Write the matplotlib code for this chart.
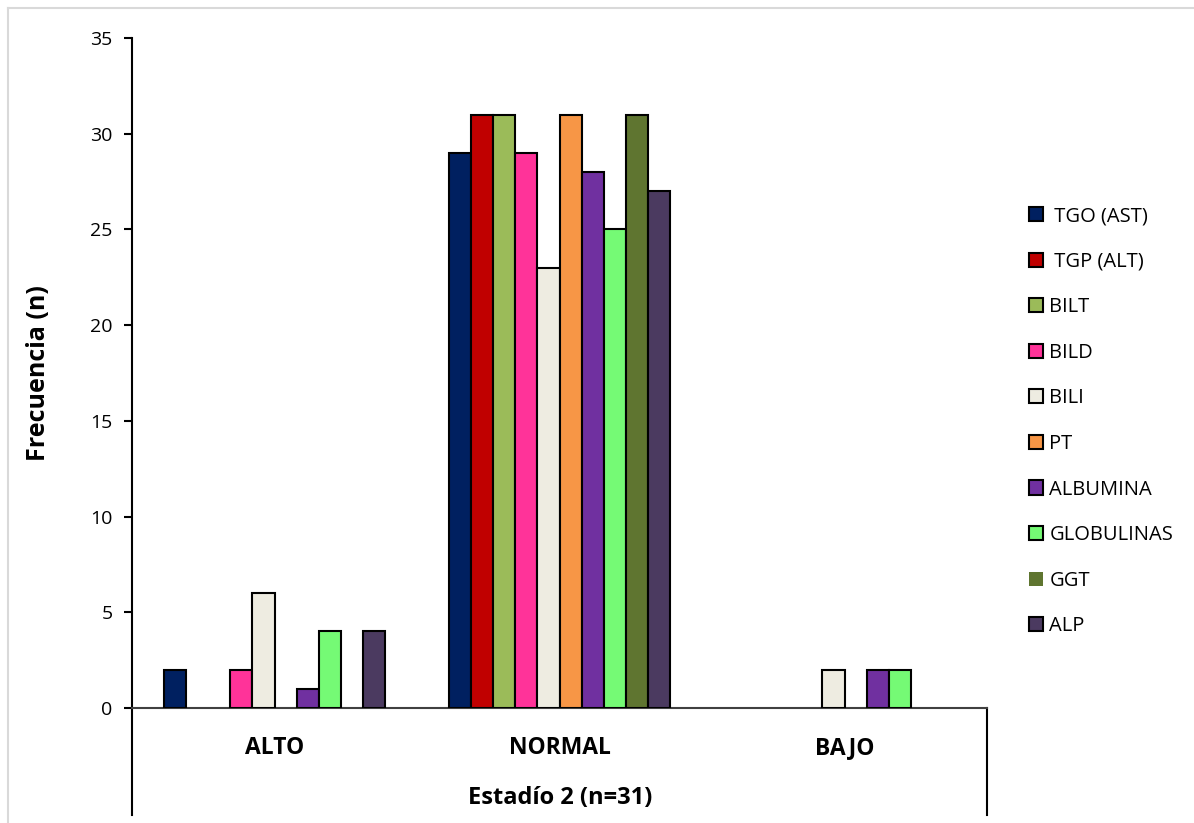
import numpy as np
import matplotlib.pyplot as plt
from matplotlib.patches import Patch

plt.rcParams['font.family'] = ['Open Sans', 'DejaVu Sans']

# Frequencies per parameter and category
categories = ["ALTO", "NORMAL", "BAJO"]
series = [" TGO (AST)", " TGP (ALT)", "BILT", "BILD", "BILI", "PT",
          "ALBUMINA", "GLOBULINAS", "GGT", "ALP"]
tgo = [2, 29, 0]
tgp = [0, 31, 0]
bilt = [0, 31, 0]
bild = [2, 29, 0]
bili = [6, 23, 2]
pt = [0, 31, 0]
albumina = [1, 28, 2]
globulinas = [4, 25, 2]
ggt = [0, 31, 0]
alp = [4, 27, 0]
values = [tgo, tgp, bilt, bild, bili, pt, albumina, globulinas, ggt, alp]

colors = ["#002060", "#C00000", "#9BBB59", "#FF3399", "#EEECE1",
          "#F79646", "#7030A0", "#75FA75", "#5F7530", "#4B3A60"]

fig = plt.figure(figsize=(11.94, 8.23), dpi=100)
ax = fig.add_axes([132 / 1194, 1 - 708 / 823, (987 - 132) / 1194, (708 - 38) / 823])

x = np.arange(len(categories))
width = 0.0772
n = len(series)
for i, (vals, c) in enumerate(zip(values, colors)):
    offs = (i - (n - 1) / 2) * width
    v = np.array(vals, dtype=float)
    keep = v > 0  # empty categories get no bar outline
    ax.bar(x[keep] + offs, v[keep], width, color=c, edgecolor="black",
           linewidth=1.5, zorder=3)

ax.set_xlim(-0.5, 2.5)
ax.set_ylim(0, 35)
ax.set_yticks(range(0, 36, 5))
ax.tick_params(axis="y", labelsize=14, length=6, width=1.5, pad=8)
ax.set_xticks(x)
ax.set_xticklabels(categories, fontsize=16.5, fontweight="bold")
ax.tick_params(axis="x", length=0, pad=20)

for s in ["top", "right"]:
    ax.spines[s].set_visible(False)
ax.spines["left"].set_linewidth(1.5)
ax.spines["bottom"].set_linewidth(1.5)
ax.spines["bottom"].set_color("#404040")

# Category axis frame below the plot
drop = (815 - 708) / 670
ax.plot([0, 0], [0, -drop], transform=ax.transAxes, color="black",
        lw=1.5, clip_on=False)
ax.plot([1, 1], [0, -drop], transform=ax.transAxes, color="black",
        lw=1.5, clip_on=False)

ax.set_ylabel("Frecuencia (n)", fontsize=18, fontweight="bold", labelpad=28)
fig.text(560 / 1194, 1 - 798 / 823, "Estadío 2 (n=31)", fontsize=17,
         fontweight="bold", ha="center", va="center")

handles = []
for i, (name, c) in enumerate(zip(series, colors)):
    ec = "none" if name == "GGT" else "black"
    handles.append(Patch(facecolor=c, edgecolor=ec, linewidth=1.5, label=name))
fig.legend(handles=handles, loc="upper left",
           bbox_to_anchor=(1011 / 1194, 1 - 188 / 823), frameon=False,
           fontsize=14.5, handlelength=0.7, handleheight=0.7,
           handletextpad=0.3, labelspacing=1.27)

# Light outer border
fig.add_artist(plt.Line2D([8 / 1194, 8 / 1194], [0, 1 - 8 / 823],
                          color="#D9D9D9", lw=1.5))
fig.add_artist(plt.Line2D([8 / 1194, 1], [1 - 8 / 823, 1 - 8 / 823],
                          color="#D9D9D9", lw=1.5))

fig.savefig("out.png", dpi=100)
